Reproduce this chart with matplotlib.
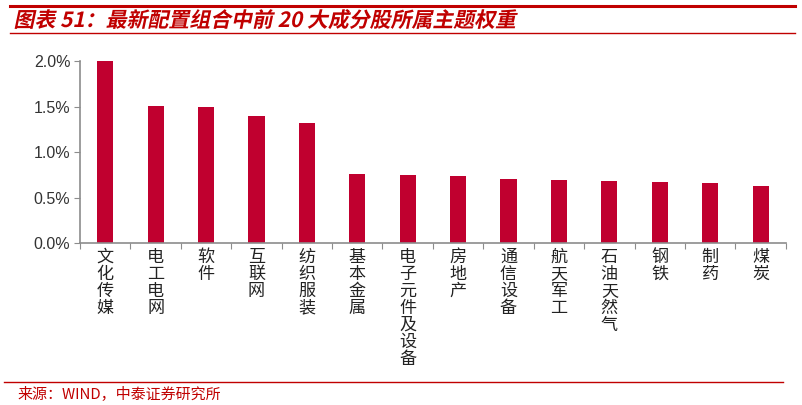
import matplotlib
matplotlib.use('Agg')
import matplotlib.pyplot as plt
from matplotlib.ticker import FuncFormatter
from matplotlib.lines import Line2D
from matplotlib.textpath import TextPath
from matplotlib.patches import PathPatch
from matplotlib.font_manager import FontProperties
from matplotlib.transforms import Affine2D, IdentityTransform

plt.rcParams['font.family'] = ['Noto Sans CJK SC', 'DejaVu Sans']

# 主题及权重(%)
themes = ['文化传媒', '电工电网', '软件', '互联网', '纺织服装', '基本金属', '电子元件及设备',
          '房地产', '通信设备', '航天军工', '石油天然气', '钢铁', '制药', '煤炭']
weights = [2.00, 1.505, 1.495, 1.395, 1.315, 0.755, 0.745,
           0.736, 0.70, 0.692, 0.681, 0.67, 0.66, 0.626]
yticks = [0.0, 0.5, 1.0, 1.5, 2.0]

title = '图表 51：最新配置组合中前 20 大成分股所属主题权重'
source = '来源：WIND，中泰证券研究所'

red = '#C00000'
bar_red = '#C0002F'
gray = '#8C8C8C'

W, H = 803, 405
fig = plt.figure(figsize=(W / 100, H / 100), dpi=100)
ax = fig.add_axes([0.0996, 0.40, 0.879, 0.449])

x = list(range(len(themes)))
ax.bar(x, weights, width=0.32, color=bar_red)

ax.set_xlim(-0.5, len(themes) - 0.5)
ax.set_ylim(0, 2.0)
ax.set_yticks(yticks)
ax.yaxis.set_major_formatter(FuncFormatter(lambda v, p: '%.1f%%' % v))
ax.tick_params(axis='y', direction='out', length=4, color=gray, labelsize=11.5,
               labelcolor='#333333', pad=3)
for lab in ax.get_yticklabels():
    lab.set_fontfamily('Liberation Sans')

# x 轴刻度在类别之间
ax.set_xticks([i - 0.5 for i in range(len(themes) + 1)])
ax.set_xticklabels([])
ax.tick_params(axis='x', direction='out', length=4, color=gray)

for i, t in enumerate(themes):
    ax.text(i, -0.05, '\n'.join(t), ha='center', va='top', fontsize=12.3,
            linespacing=0.93, color='#222222', transform=ax.transData)

for s in ['top', 'right']:
    ax.spines[s].set_visible(False)
for s in ['left', 'bottom']:
    ax.spines[s].set_color(gray)
    ax.spines[s].set_linewidth(1.2)

# 标题(斜体, 用路径倾斜)
fig.add_artist(Line2D([0.012, 0.99], [0.985, 0.985], color=red, lw=2.2))
tp = TextPath((0, 0), title, size=18,
              prop=FontProperties(family='Noto Sans CJK SC', weight='bold'))
bb = tp.get_extents()
sc = 500 / bb.width
tr = Affine2D().scale(sc).skew_deg(12, 0).translate(15 - bb.x0 * sc, H - 27)
fig.add_artist(PathPatch(tp, transform=tr + IdentityTransform(),
                         facecolor=red, edgecolor='none'))
fig.add_artist(Line2D([0.012, 0.99], [0.918, 0.918], color=red, lw=1.0))

fig.add_artist(Line2D([0.005, 0.975], [0.057, 0.057], color=red, lw=1.0))
fig.text(0.022, 0.028, source, ha='left', va='center', fontsize=10.8,
         color=red, fontweight='light')

fig.savefig('out.png', dpi=100)
